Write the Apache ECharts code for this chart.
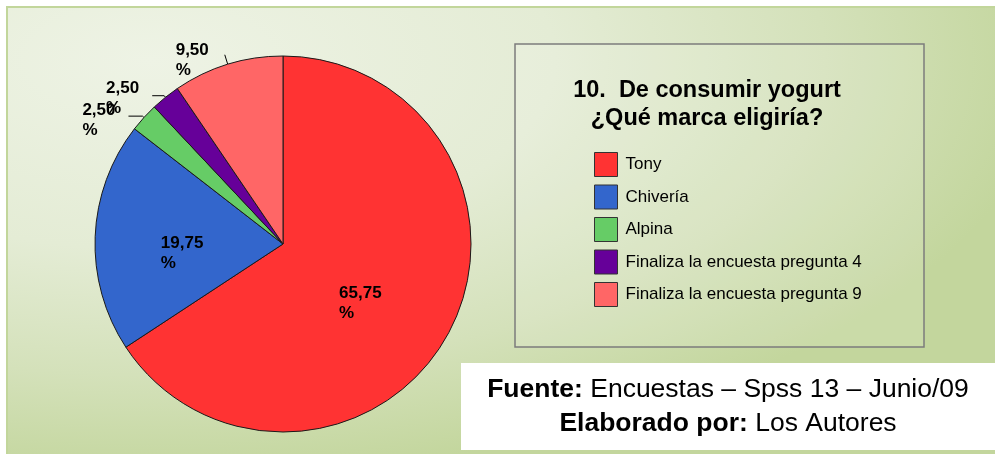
<!DOCTYPE html>
<html>
<head>
<meta charset="utf-8">
<script src="https://cdn.jsdelivr.net/npm/echarts@6/dist/echarts.min.js"></script>
<style>
  html, body { margin: 0; padding: 0; background: #ffffff; }
  #chart { width: 995px; height: 454px; }
</style>
</head>
<body>
<div id="chart"></div>
<script>
// ---- Data ----
const categories = ['Tony', 'Chivería', 'Alpina', 'Finaliza la encuesta pregunta 4', 'Finaliza la encuesta pregunta 9'];
const values = [65.75, 19.75, 2.5, 2.5, 9.5];
const colors = ['#ff3333', '#3366cc', '#66cc66', '#660099', '#ff6666'];
const labelPositions = ['inside', 'inside', 'outside', 'outside', 'outside'];
const titleLines = ['10.  De consumir yogurt', '¿Qué marca eligiría?'];
const sourceBold = ['Fuente:', 'Elaborado por:'];
const sourceText = [' Encuestas – Spss 13 – Junio/09', ' Los Autores'];

// ---- Styling helpers ----
const FONT = "'Liberation Sans', Arial, Helvetica, sans-serif";
const s = 420 / 900; // vertical squash of the elliptical background gradient
const lineCfg = [null, null, { length: 2, length2: 14 }, { length: 2, length2: 12 }, { length: 10, length2: 0 }];
const labelDist = [0, 0, 13, 13, 16];
const labelPad = [[26, 16, 0, 0], [26, 8, 0, 0], [8, 0, 0, 0], [5, 0, 0, 0], [11, 0, 0, 0]];

const chart = echarts.init(document.getElementById('chart'), null, { renderer: 'canvas', width: 995, height: 454 });

const richLabel = {
  v: { fontSize: 17, fontWeight: 'bold', fontFamily: FONT, color: '#000', lineHeight: 20, align: 'left' },
  p: { fontSize: 17, fontWeight: 'bold', fontFamily: FONT, color: '#000', lineHeight: 20, align: 'left' }
};

const pieData = categories.map((name, i) => {
  const item = { name: name, value: values[i], itemStyle: { color: colors[i] } };
  if (labelPositions[i] === 'inside') {
    item.label = { position: 'inside', padding: labelPad[i] };
  } else {
    item.label = { position: 'outside', distanceToLabelLine: labelDist[i], padding: labelPad[i] };
    item.labelLine = lineCfg[i];
  }
  return item;
});

const option = {
  animation: false,
  backgroundColor: '#ffffff',
  graphic: [
    {
      type: 'rect', z: -10, silent: true,
      shape: { x: 6, y: 6 / s, width: 995, height: 460 / s },
      scaleY: s, originX: 0, originY: 0,
      style: {
        fill: new echarts.graphic.RadialGradient(150, 60 / s, 900, [
          { offset: 0, color: '#eef3e5' },
          { offset: 0.45, color: '#e4ecd5' },
          { offset: 0.75, color: '#d4e1ba' },
          { offset: 1, color: '#c3d69d' }
        ], true)
      }
    },
    {
      type: 'rect', z: -9, silent: true,
      shape: { x: 7, y: 7, width: 995, height: 452 },
      style: { fill: null, stroke: '#c2d69b', lineWidth: 2 }
    },
    {
      type: 'rect', z: -8, silent: true,
      shape: { x: 515, y: 44, width: 409, height: 303 },
      style: { fill: 'rgba(255,255,255,0.12)', stroke: '#7c7c7c', lineWidth: 1.5 }
    },
    {
      type: 'text', z: 5, silent: true,
      x: 707, y: 77,
      style: {
        text: titleLines.join('\n'),
        font: "bold 23.5px " + FONT,
        fill: '#000',
        align: 'center', verticalAlign: 'top', lineHeight: 28
      }
    },
    {
      type: 'rect', z: -7, silent: true,
      shape: { x: 461, y: 363, width: 540, height: 87 },
      style: { fill: '#ffffff' }
    },
    {
      type: 'text', z: 5, silent: true,
      x: 728, y: 373,
      style: {
        text: sourceBold.map((b, i) => '{b|' + b + '}{r|' + sourceText[i] + '}').join('\n'),
        fontSize: 26.5, fontFamily: FONT, fill: '#000',
        align: 'center', verticalAlign: 'top', lineHeight: 34,
        rich: {
          b: { fontSize: 26.5, fontFamily: FONT, fontWeight: 'bold', fill: '#000', lineHeight: 34 },
          r: { fontSize: 26.5, fontFamily: FONT, fontWeight: 'normal', fill: '#000', lineHeight: 34 }
        }
      }
    }
  ],
  legend: {
    orient: 'vertical',
    left: 594, top: 152,
    padding: 0,
    itemWidth: 23, itemHeight: 24, itemGap: 7.5,
    icon: 'rect',
    selectedMode: false,
    data: categories,
    itemStyle: { borderColor: '#333', borderWidth: 1 },
    textStyle: { fontSize: 17, fontFamily: FONT, color: '#000', padding: [0, 0, 0, 3] }
  },
  series: [{
    type: 'pie',
    center: [283, 244],
    radius: 188,
    startAngle: 90,
    clockwise: true,
    avoidLabelOverlap: false,
    labelLayout: { hideOverlap: false, moveOverlap: false },
    silent: true,
    emphasis: { disabled: true },
    itemStyle: { borderColor: '#1a1a1a', borderWidth: 1 },
    label: {
      formatter: function (p) {
        return '{v|' + p.value.toFixed(2).replace('.', ',') + '}\n{p|%}';
      },
      rich: richLabel,
      color: '#000'
    },
    labelLine: { show: true, lineStyle: { color: '#000', width: 1 } },
    data: pieData
  }]
};

chart.setOption(option);
</script>
</body>
</html>
